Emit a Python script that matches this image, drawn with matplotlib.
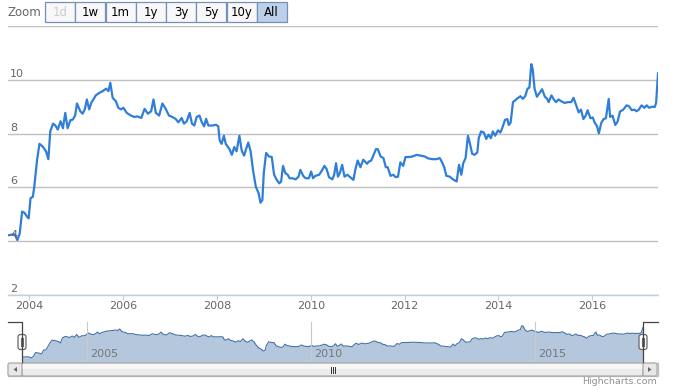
import matplotlib
matplotlib.use('Agg')
import numpy as np
from matplotlib import pyplot as plt
from matplotlib.patches import Rectangle, FancyBboxPatch, Polygon

# fechas en años decimales y valor de la serie
dates = [2003.55, 2003.69, 2003.75, 2003.80, 2003.85, 2003.90, 2003.96, 2003.99,
         2004.03, 2004.08, 2004.11, 2004.17, 2004.22, 2004.29, 2004.36, 2004.41,
         2004.45, 2004.51, 2004.56, 2004.61, 2004.67, 2004.72, 2004.77, 2004.82,
         2004.88, 2004.93, 2004.98, 2005.02, 2005.09, 2005.14, 2005.19, 2005.23,
         2005.28, 2005.33, 2005.37, 2005.42, 2005.50, 2005.57, 2005.64, 2005.69,
         2005.73, 2005.78, 2005.85, 2005.90, 2005.96, 2006.01, 2006.08, 2006.17,
         2006.24, 2006.31, 2006.39, 2006.46, 2006.53, 2006.60, 2006.65, 2006.70,
         2006.77, 2006.84, 2006.91, 2006.98, 2007.05, 2007.12, 2007.18, 2007.25,
         2007.30, 2007.36, 2007.42, 2007.47, 2007.52, 2007.57, 2007.63, 2007.68,
         2007.73, 2007.77, 2007.82, 2007.91, 2007.98, 2008.03, 2008.06, 2008.10,
         2008.15, 2008.19, 2008.27, 2008.32, 2008.37, 2008.42, 2008.48, 2008.53,
         2008.58, 2008.63, 2008.67, 2008.72, 2008.77, 2008.83, 2008.89, 2008.93,
         2008.97, 2009.00, 2009.05, 2009.11, 2009.17, 2009.22, 2009.27, 2009.33,
         2009.37, 2009.41, 2009.46, 2009.51, 2009.55, 2009.61, 2009.68, 2009.74,
         2009.78, 2009.84, 2009.89, 2009.96, 2010.01, 2010.05, 2010.10, 2010.18,
         2010.24, 2010.29, 2010.34, 2010.39, 2010.46, 2010.50, 2010.54, 2010.58,
         2010.62, 2010.67, 2010.72, 2010.78, 2010.84, 2010.91, 2010.95, 2011.00,
         2011.06, 2011.12, 2011.20, 2011.24, 2011.29, 2011.34, 2011.39, 2011.43,
         2011.49, 2011.55, 2011.60, 2011.64, 2011.70, 2011.76, 2011.81, 2011.86,
         2011.91, 2011.97, 2012.02, 2012.10, 2012.17, 2012.26, 2012.34, 2012.43,
         2012.50, 2012.59, 2012.68, 2012.75, 2012.80, 2012.85, 2012.89, 2012.96,
         2013.03, 2013.11, 2013.16, 2013.21, 2013.25, 2013.30, 2013.35, 2013.39,
         2013.44, 2013.49, 2013.55, 2013.58, 2013.63, 2013.69, 2013.74, 2013.79,
         2013.84, 2013.88, 2013.93, 2013.99, 2014.04, 2014.08, 2014.14, 2014.19,
         2014.22, 2014.26, 2014.31, 2014.36, 2014.42, 2014.47, 2014.52, 2014.57,
         2014.62, 2014.66, 2014.70, 2014.73, 2014.77, 2014.82, 2014.87, 2014.93,
         2014.99, 2015.04, 2015.07, 2015.13, 2015.18, 2015.23, 2015.28, 2015.34,
         2015.41, 2015.48, 2015.55, 2015.60, 2015.65, 2015.71, 2015.76, 2015.81,
         2015.86, 2015.90, 2015.96, 2016.01, 2016.05, 2016.10, 2016.14, 2016.19,
         2016.24, 2016.29, 2016.35, 2016.38, 2016.43, 2016.49, 2016.54, 2016.59,
         2016.66, 2016.73, 2016.78, 2016.84, 2016.90, 2016.94, 2016.99, 2017.05,
         2017.11, 2017.16, 2017.21, 2017.27, 2017.33, 2017.36, 2017.40]

rates = [4.22, 4.26, 4.04, 4.29, 5.10, 5.06, 4.90, 4.85,
         5.60, 5.65, 6.03, 7.03, 7.62, 7.52, 7.34, 7.05,
         8.08, 8.37, 8.30, 8.15, 8.46, 8.20, 8.77, 8.20,
         8.50, 8.52, 8.67, 9.12, 8.83, 8.74, 8.92, 9.27,
         8.90, 9.17, 9.27, 9.42, 9.52, 9.58, 9.67, 9.58,
         9.89, 9.33, 9.20, 8.96, 8.90, 8.96, 8.77, 8.67,
         8.62, 8.64, 8.58, 8.92, 8.74, 8.83, 9.27, 8.77,
         8.67, 9.12, 8.92, 8.67, 8.62, 8.55, 8.42, 8.58,
         8.37, 8.46, 8.77, 8.37, 8.30, 8.62, 8.67, 8.42,
         8.27, 8.55, 8.30, 8.30, 8.33, 8.27, 7.75, 7.62,
         7.92, 7.62, 7.42, 7.21, 7.50, 7.34, 7.92, 7.37,
         7.18, 7.46, 7.67, 7.34, 6.65, 6.03, 5.78, 5.43,
         5.53, 6.53, 7.28, 7.15, 7.13, 6.47, 6.30, 6.15,
         6.22, 6.80, 6.53, 6.47, 6.34, 6.34, 6.30, 6.40,
         6.65, 6.43, 6.34, 6.34, 6.59, 6.34, 6.43, 6.47,
         6.63, 6.80, 6.68, 6.38, 6.30, 6.47, 6.90, 6.40,
         6.53, 6.84, 6.40, 6.47, 6.38, 6.28, 6.65, 7.00,
         6.75, 7.03, 6.88, 6.96, 7.00, 7.21, 7.42, 7.42,
         7.15, 7.09, 6.75, 6.75, 6.43, 6.47, 6.38, 6.40,
         6.93, 6.80, 7.13, 7.13, 7.15, 7.21, 7.18, 7.15,
         7.08, 7.05, 7.05, 7.09, 6.93, 6.72, 6.43, 6.40,
         6.30, 6.22, 6.84, 6.47, 6.90, 7.09, 7.92, 7.65,
         7.25, 7.21, 7.30, 7.83, 8.08, 8.04, 7.80, 7.96,
         7.83, 8.08, 7.92, 8.12, 8.04, 8.20, 8.51, 8.54,
         8.32, 8.41, 9.17, 9.24, 9.33, 9.39, 9.29, 9.39,
         9.67, 9.71, 10.58, 10.40, 9.67, 9.37, 9.50, 9.65,
         9.37, 9.29, 9.17, 9.42, 9.27, 9.17, 9.27, 9.20,
         9.14, 9.17, 9.17, 9.33, 9.08, 8.79, 8.89, 8.54,
         8.67, 8.87, 8.57, 8.60, 8.41, 8.28, 8.01, 8.39,
         8.54, 8.57, 9.29, 8.62, 8.67, 8.32, 8.45, 8.82,
         8.89, 9.05, 9.02, 8.87, 8.89, 8.83, 8.89, 9.05,
         8.96, 9.05, 8.96, 9.00, 8.99, 9.14, 10.24]

y_ticks = [2, 4, 6, 8, 10, 12]
y_labels = ['2', '4', '6', '8', '10', '']   # la linea de 12 no lleva etiqueta
x_ticks = [2004, 2006, 2008, 2010, 2012, 2014, 2016]
nav_ticks = [2005, 2010, 2015]
zoom_buttons = ['1d', '1w', '1m', '1y', '3y', '5y', '10y', 'All']

W, H = 675, 390
plt.rcParams['font.family'] = 'DejaVu Sans'


def box(x0, y0, x1, y1):
    # pixeles (origen arriba-izquierda) -> fracciones de figura
    return [x0 / W, 1 - y1 / H, (x1 - x0) / W, (y1 - y0) / H]


fig = plt.figure(figsize=(W / 100, H / 100), dpi=100)

# ---- grafico principal ----
ax = fig.add_axes(box(8, 26, 658, 295))
ax.plot(dates, rates, color='#2f7ed8', lw=1.6, solid_joinstyle='round')
ax.set_xlim(dates[0], dates[-1])
ax.set_ylim(2, 12)
ax.set_yticks(y_ticks)
ax.set_xticks(x_ticks)
ax.set_xticklabels([str(t) for t in x_ticks])
ax.grid(axis='y', color='#c0c0c0', lw=1)
ax.set_axisbelow(True)
for s in ['top', 'right', 'left']:
    ax.spines[s].set_visible(False)
ax.spines['bottom'].set_color('#c0d0e0')
ax.spines['bottom'].set_linewidth(1)
ax.tick_params(axis='y', length=0, labelleft=False)
ax.tick_params(axis='x', length=3.6, width=0.8, color='#c0d0e0', pad=0.8,
               labelcolor='#666666', labelsize=8)
for v, lab in zip(y_ticks, y_labels):
    if lab:
        ax.annotate(lab, (0, v), xycoords=('axes fraction', 'data'),
                    xytext=(2, 3), textcoords='offset pixels', ha='left',
                    va='baseline', color='#666666', fontsize=8)

# ---- navegador ----
nav = fig.add_axes(box(22, 322, 643, 362))
nav.fill_between(dates, rates, 0, color='#b5c7dc', lw=0)
nav.plot(dates, rates, color='#4572a7', lw=0.8)
nav.set_xlim(dates[0], dates[-1])
nav.set_ylim(3.2, 11.3)
nav.set_xticks(nav_ticks)
nav.grid(axis='x', color='#c8c8c8', lw=0.8)
nav.set_axisbelow(False)
nav.tick_params(length=0, labelbottom=False, labelleft=False)
nav.set_yticks([])
for s in nav.spines.values():
    s.set_visible(False)
for yr in nav_ticks:
    nav.annotate(str(yr), (yr, 0), xycoords=('data', 'axes fraction'),
                 xytext=(3, 5), textcoords='offset pixels', ha='left',
                 va='baseline', color='#777777', fontsize=8)

# ---- capa en pixeles para botones, barra y marcos ----
ov = fig.add_axes([0, 0, 1, 1])
ov.set_xlim(0, W)
ov.set_ylim(H, 0)
ov.axis('off')
ov.patch.set_alpha(0)

ov.text(7, 12, 'Zoom', ha='left', va='center', color='#666666', fontsize=8.5)
bx = 45
for lab in zoom_buttons:
    sel = lab == 'All'
    ov.add_patch(Rectangle((bx, 2), 30, 20, fc='#bcd0ec' if sel else '#f8f8f8',
                           ec='#7290b8', lw=0.9))
    col = '#cccccc' if lab == '1d' else '#000000'
    ov.text(bx + 15, 12.5, lab, ha='center', va='center', color=col, fontsize=8.5)
    bx += 30.25

# marco del navegador
ov.plot([8, 22, 22], [322, 322, 362], color='#444444', lw=0.9)
ov.plot([658, 643, 643], [322, 322, 362], color='#444444', lw=0.9)
for hx in [22, 643]:
    ov.add_patch(FancyBboxPatch((hx - 4, 334.5), 8, 15,
                                boxstyle='round,pad=0,rounding_size=2.5',
                                fc='white', ec='#666666', lw=0.9))
    ov.plot([hx - 1.2, hx - 1.2], [338, 346], color='#666666', lw=0.8)
    ov.plot([hx + 1.2, hx + 1.2], [338, 346], color='#666666', lw=0.8)

# barra de desplazamiento
ov.add_patch(Rectangle((8, 363), 650, 13, fc='#eeeeee', ec='#bbbbbb', lw=0.9))
ov.add_patch(FancyBboxPatch((22, 363), 621, 13,
                            boxstyle='round,pad=0,rounding_size=2',
                            fc='#ececec', ec='#aaaaaa', lw=0.9))
ov.add_patch(Rectangle((22, 363.5), 621, 5, fc='#f6f6f6', ec='none'))
for bx0 in [8, 643]:
    ov.add_patch(FancyBboxPatch((bx0, 363), 14, 13,
                                boxstyle='round,pad=0,rounding_size=2',
                                fc='#e8e8e8', ec='#aaaaaa', lw=0.9))
ov.add_patch(Polygon([[17, 367], [17, 372], [13.5, 369.5]], fc='#666666', ec='none'))
ov.add_patch(Polygon([[648, 367], [648, 372], [651.5, 369.5]], fc='#666666', ec='none'))
for gx in [330.5, 332.5, 334.5]:
    ov.plot([gx, gx], [366.5, 372.5], color='#333333', lw=0.7)

ov.text(657, 382, 'Highcharts.com', ha='right', va='center', color='#909090',
        fontsize=6.8)

fig.savefig('out.png', dpi=100, facecolor='white')
